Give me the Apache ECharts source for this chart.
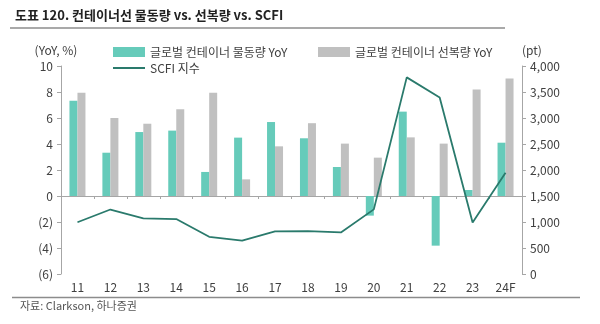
<!DOCTYPE html>
<html><head><meta charset="utf-8">
<script src="https://cdn.jsdelivr.net/npm/echarts@6/dist/echarts.min.js"></script>
<style>html,body{margin:0;padding:0;background:#fff}#c{width:600px;height:324px}</style>
</head><body><div id="c"></div>
<script>
const categories = ['11','12','13','14','15','16','17','18','19','20','21','22','23','24F'];
const throughputYoY = [7.33, 3.33, 4.92, 5.03, 1.85, 4.49, 5.69, 4.44, 2.23, -1.51, 6.49, -3.82, 0.46, 4.1];
const capacityYoY = [7.95, 6.0, 5.56, 6.67, 7.95, 1.28, 3.82, 5.6, 4.03, 2.95, 4.51, 4.03, 8.2, 9.03];
const scfi = [995, 1240, 1070, 1057, 715, 640, 818, 825, 800, 1243, 3781, 3395, 991, 1946];
const leftTicks = {min: -6, max: 10, interval: 2};
const rightTicks = {min: 0, max: 4000, interval: 500};

const FONT = '"Noto Sans CJK KR", "Open Sans", sans-serif';
const TXT = '#404040';
const chart = echarts.init(document.getElementById('c'), null, {renderer: 'canvas'});
chart.setOption({
  animation: false,
  textStyle: {fontFamily: FONT, color: TXT},
  title: {
    text: '도표 120. 컨테이너선 물동량 vs. 선복량 vs. SCFI',
    left: 10, top: 4,
    textStyle: {fontSize: 13, fontWeight: 'bold', color: '#222', fontFamily: FONT}
  },
  graphic: [
    {type: 'line', shape: {x1: 10, y1: 28, x2: 505, y2: 28}, style: {stroke: '#8c8c8c', lineWidth: 1.5}},
    {type: 'line', shape: {x1: 12, y1: 297.5, x2: 580, y2: 297.5}, style: {stroke: '#8c8c8c', lineWidth: 1.5}},
    {type: 'text', left: 20, top: 300, style: {text: '자료: Clarkson, 하나증권', font: '11px ' + FONT, fill: '#555'}}
  ],
  legend: [
    {left: 108, top: 41, orient: 'vertical', itemWidth: 32, itemHeight: 10, itemGap: 4,
     textStyle: {fontSize: 12, color: TXT, fontFamily: FONT},
     data: [{name: '글로벌 컨테이너 물동량 YoY', icon: 'rect'}, {name: 'SCFI 지수', icon: 'path://M0,0 L32,0 L32,2 L0,2 Z'}]},
    {left: 313, top: 41, itemWidth: 32, itemHeight: 10,
     textStyle: {fontSize: 12, color: TXT, fontFamily: FONT},
     data: [{name: '글로벌 컨테이너 선복량 YoY', icon: 'rect'}]}
  ],
  grid: {left: 61, right: 78, top: 66, bottom: 50},
  xAxis: [
    {type: 'category', data: categories, axisLine: {onZero: true, lineStyle: {color: '#a6a6a6'}},
     axisTick: {show: true, length: 3, lineStyle: {color: '#a6a6a6'}},
     axisLabel: {show: false}},
    {type: 'category', data: categories, position: 'bottom', axisLine: {show: false, onZero: false},
     axisTick: {show: false}, axisLabel: {margin: 7, fontSize: 12, color: TXT, fontFamily: FONT}}
  ],
  yAxis: [
    {type: 'value', min: leftTicks.min, max: leftTicks.max, interval: leftTicks.interval,
     name: '(YoY, %)', nameLocation: 'end', nameGap: 10, nameTextStyle: {align: 'center', fontSize: 12, color: TXT, padding: [0, 0, 0, -10]},
     axisLine: {show: true, lineStyle: {color: '#a6a6a6'}},
     axisTick: {show: true, length: 4, lineStyle: {color: '#a6a6a6'}},
     splitLine: {show: false},
     axisLabel: {fontSize: 12, color: TXT, margin: 8, formatter: v => v < 0 ? '(' + (-v) + ')' : String(v)}},
    {type: 'value', min: rightTicks.min, max: rightTicks.max, interval: rightTicks.interval,
     name: '(pt)', nameLocation: 'end', nameGap: 10, nameTextStyle: {align: 'left', fontSize: 12, color: TXT, padding: [0, 0, 0, 0]},
     axisLine: {show: true, lineStyle: {color: '#a6a6a6'}},
     axisTick: {show: true, length: 4, lineStyle: {color: '#a6a6a6'}},
     splitLine: {show: false},
     axisLabel: {fontSize: 12, color: TXT, margin: 8, formatter: v => v.toLocaleString('en-US')}}
  ],
  series: [
    {name: '글로벌 컨테이너 물동량 YoY', type: 'bar', data: throughputYoY, barWidth: 8, barGap: '0%',
     itemStyle: {color: '#66CBBA'}},
    {name: '글로벌 컨테이너 선복량 YoY', type: 'bar', data: capacityYoY, barWidth: 8, barGap: '0%',
     itemStyle: {color: '#C0C0C0'}},
    {name: 'SCFI 지수', type: 'line', yAxisIndex: 1, data: scfi, symbol: 'none',
     lineStyle: {color: '#2A7A6C', width: 1.8}, itemStyle: {color: '#2A7A6C'}}
  ]
});
</script></body></html>
